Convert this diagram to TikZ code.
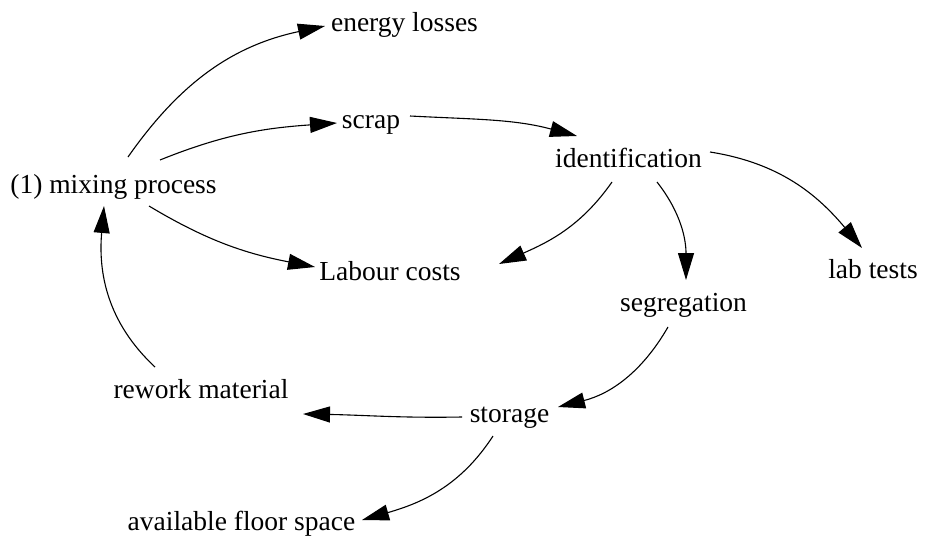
\documentclass[tikz,border=0pt]{standalone}
\usepackage{fontspec}
\setmainfont{Liberation Serif}
\newfontfamily\labelfont{Liberation Serif}
\usetikzlibrary{arrows.meta,calc}

\begin{document}
\begin{tikzpicture}[x=1pt,y=1pt,
  lbl/.style={anchor=base,inner sep=0pt,font=\labelfont\fontsize{27.5}{30}\selectfont},
  flow/.style={line width=1.1pt,-{Triangle[length=27pt,width=16pt]}}]
\useasboundingbox[fill=white] (0,0) rectangle (949,-535);

% factors (placed by baseline centre)
\node[lbl] (energy)  at (404.5,-32)  {energy losses};
\node[lbl] (scrap)   at (371,-128)   {scrap};
\node[lbl] (mix)     at (113.5,-193) {(1) mixing process};
\node[lbl] (ident)   at (628.5,-167) {identification};
\node[lbl] (labour)  at (390,-280)   {Labour costs};
\node[lbl] (lab)     at (873,-278)   {lab tests};
\node[lbl] (seg)     at (683.5,-311) {segregation};
\node[lbl] (rework)  at (201,-398)   {rework material};
\node[lbl] (storage) at (509.5,-422) {storage};
\node[lbl] (floor)   at (241.5,-530) {available floor space};

% causal links
\draw[flow] ($(mix.base)+(14.5,36)$) to[out=55,in=192] ($(energy.base)+(-79.5,6)$);
\draw[flow] ($(mix.base)+(46.5,33)$) to[out=22,in=184] ($(scrap.base)+(-34,5)$);
\draw[flow] ($(mix.base)+(35.5,-13)$) to[out=-31,in=169] ($(labour.base)+(-75,13)$);
\draw[flow] ($(rework.base)+(-46,31)$) to[out=137,in=265] ($(mix.base)+(-9.5,-13)$);
\draw[flow] ($(scrap.base)+(39,12)$) to[out=-3,in=165] ($(ident.base)+(-51.5,31)$);
\draw[flow] ($(ident.base)+(-16.5,-15)$) to[out=235,in=24] ($(labour.base)+(109,16)$);
\draw[flow] ($(ident.base)+(28.5,-15)$) to[out=-52,in=90] ($(seg.base)+(2.5,31)$);
\draw[flow] ($(ident.base)+(81.5,15)$) to[out=-9,in=130] ($(lab.base)+(-11,30)$);
\draw[flow] ($(seg.base)+(-15.5,-16)$) to[out=240,in=14] ($(storage.base)+(48.5,15)$);
\draw[flow] ($(storage.base)+(-47.5,5)$) to[out=181,in=-1] ($(rework.base)+(102,-16)$);
\draw[flow] ($(storage.base)+(-16.5,-14)$) to[out=237,in=16] ($(floor.base)+(120.5,10)$);
\end{tikzpicture}
\end{document}
